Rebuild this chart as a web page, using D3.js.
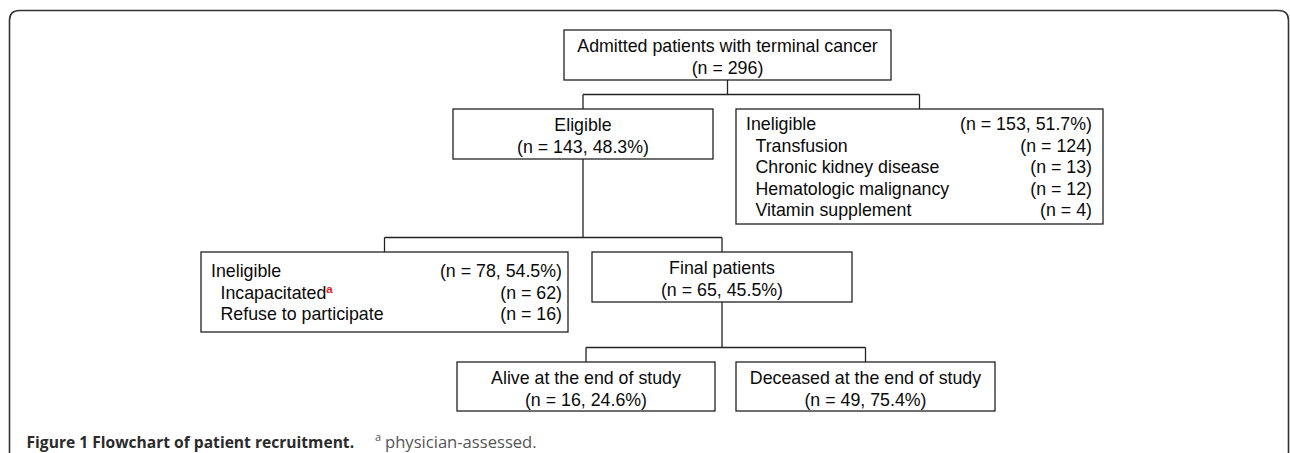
<!DOCTYPE html>
<meta charset="utf-8">
<style>
    body { margin: 0; background: #fff; }
    .box { fill: #fff; stroke: #222; stroke-width: 1.3; }
    .link { fill: none; stroke: #222; stroke-width: 1.3; }
    .frame { fill: none; stroke: #333; stroke-width: 1.6; }
    .node text { font-family: "Liberation Sans", Arial, sans-serif; font-size: 17.8px; fill: #0a0a0a; }
    .caption { font-family: "Open Sans", sans-serif; fill: #2b2b2b; }
</style>

<div class="flow"></div>

<script src="https://cdn.jsdelivr.net/npm/d3@7"></script>

<script>
    // flowchart data
    var nodeIds = ["admitted", "eligible", "inelig1", "inelig2", "final", "alive", "deceased"];
    var nodeTitles = ["Admitted patients with terminal cancer", "Eligible", "Ineligible", "Ineligible",
        "Final patients", "Alive at the end of study", "Deceased at the end of study"];
    var nodeCounts = [296, 143, 153, 78, 65, 16, 49];
    var nodePercents = [null, 48.3, 51.7, 54.5, 45.5, 24.6, 75.4];
    var nodeParents = [null, "admitted", "admitted", "eligible", "eligible", "final", "final"];

    var reasons1 = ["Transfusion", "Chronic kidney disease", "Hematologic malignancy", "Vitamin supplement"];
    var reasonCounts1 = [124, 13, 12, 4];
    var reasons2 = ["Incapacitated", "Refuse to participate"];
    var reasonCounts2 = [62, 16];
    var reasonNotes2 = ["a", ""];

    var captionTitle = "Figure 1 Flowchart of patient recruitment.";
    var captionNote = "physician-assessed.";

    // layout (box edges in px)
    var layout = {
        admitted: {x0: 564, x1: 891, y0: 30, y1: 80},
        eligible: {x0: 453, x1: 713, y0: 109, y1: 159},
        inelig1:  {x0: 736, x1: 1103, y0: 109, y1: 224, pad: 21, right: 11},
        inelig2:  {x0: 201, x1: 568, y0: 252, y1: 332, pad: 25, right: 6},
        final:    {x0: 592, x1: 852, y0: 252, y1: 302},
        alive:    {x0: 457, x1: 715, y0: 362, y1: 411},
        deceased: {x0: 736, x1: 995, y0: 362, y1: 411}
    };
    var lineStep = 21.5;

    var width = 1290, height = 453;

    var svg = d3.select('.flow')
        .append("svg")
        .attr("width", width)
        .attr("height", height);

    // outer frame, rounded top corners, open at bottom
    var fr = 10, fl = 9.5, ft = 10.5, frt = 1288.5;
    svg.append("path")
        .attr("class", "frame")
        .attr("d", "M" + fl + "," + (height + 5) + "V" + (ft + fr) +
            "Q" + fl + "," + ft + " " + (fl + fr) + "," + ft +
            "H" + (frt - fr) + "Q" + frt + "," + ft + " " + frt + "," + (ft + fr) +
            "V" + (height + 5));

    var nodes = nodeIds.map(function (id, i) {
        var b = layout[id];
        return {
            id: id, title: nodeTitles[i], n: nodeCounts[i], pct: nodePercents[i],
            parent: nodeParents[i], box: b, cx: (b.x0 + b.x1) / 2
        };
    });
    var byId = {};
    nodes.forEach(function (d) { byId[d.id] = d; });

    // connectors: parent bottom -> bus -> child top
    var groups = d3.group(nodes.filter(function (d) { return d.parent; }), function (d) { return d.parent; });
    groups.forEach(function (kids, pid) {
        var p = byId[pid];
        var top = d3.min(kids, function (k) { return k.box.y0; });
        var busY = top - 14.5;
        var xs = kids.map(function (k) { return k.cx; });
        svg.append("path").attr("class", "link")
            .attr("d", "M" + p.cx + "," + p.box.y1 + "V" + busY);
        svg.append("path").attr("class", "link")
            .attr("d", "M" + d3.min(xs) + "," + busY + "H" + d3.max(xs));
        kids.forEach(function (k) {
            svg.append("path").attr("class", "link")
                .attr("d", "M" + k.cx + "," + busY + "V" + k.box.y0);
        });
    });

    var g = svg.selectAll('g.node')
        .data(nodes)
        .enter().append('g')
        .attr('class', 'node');

    g.append('rect')
        .attr('class', 'box')
        .attr('x', function (d) { return d.box.x0; })
        .attr('y', function (d) { return d.box.y0; })
        .attr('width', function (d) { return d.box.x1 - d.box.x0; })
        .attr('height', function (d) { return d.box.y1 - d.box.y0; });

    function countText(n, pct) {
        return pct == null ? "(n = " + n + ")" : "(n = " + n + ", " + pct.toFixed(1) + "%)";
    }

    // centred boxes
    g.filter(function (d) { return d.id.indexOf("inelig") < 0; }).each(function (d) {
        var sel = d3.select(this);
        sel.append('text').attr('x', d.cx).attr('y', d.box.y0 + 21.5)
            .attr('text-anchor', 'middle').text(d.title);
        sel.append('text').attr('x', d.cx).attr('y', d.box.y0 + 44)
            .attr('text-anchor', 'middle').text(countText(d.n, d.pct));
    });

    // list boxes
    var lists = {inelig1: [reasons1, reasonCounts1, ["", "", "", ""]], inelig2: [reasons2, reasonCounts2, reasonNotes2]};
    g.filter(function (d) { return d.id.indexOf("inelig") == 0; }).each(function (d) {
        var sel = d3.select(this), b = d.box, L = lists[d.id];
        var y0 = b.y0 + b.pad, xr = b.x1 - b.right;
        sel.append('text').attr('x', b.x0 + 10).attr('y', y0).text(d.title);
        sel.append('text').attr('x', xr).attr('y', y0).attr('text-anchor', 'end').text(countText(d.n, d.pct));
        L[0].forEach(function (r, i) {
            var y = y0 + (i + 1) * lineStep;
            var t = sel.append('text').attr('x', b.x0 + 19.5).attr('y', y).text(r);
            if (L[2][i]) {
                t.append('tspan').attr('dy', -6).style('font-size', '11.5px').style('font-weight', 'bold')
                    .style('fill', '#f01818').text(L[2][i]);
            }
            sel.append('text').attr('x', xr).attr('y', y).attr('text-anchor', 'end').text("(n = " + L[1][i] + ")");
        });
    });

    // caption
    svg.append('text').attr('class', 'caption')
        .attr('x', 26.5).attr('y', 447.5)
        .style('font-size', '15.6px').style('font-weight', 'bold')
        .text(captionTitle);
    var note = svg.append('text').attr('class', 'caption')
        .attr('x', 375).attr('y', 440.5)
        .style('fill', '#555');
    note.append('tspan').style('font-size', '11px').text("a");
    note.append('tspan').attr('x', 385).attr('dy', 7).style('font-size', '16.6px').text(captionNote);
</script>
